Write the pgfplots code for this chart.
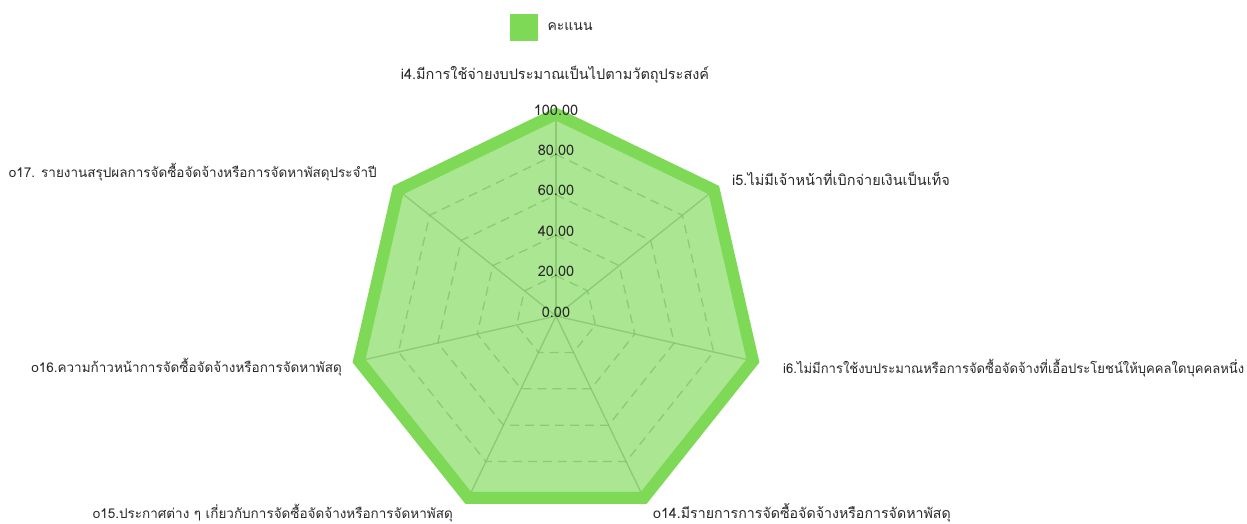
\documentclass[border=0pt]{standalone}
\usepackage{pgfplots}
\pgfplotsset{compat=1.18}
\usepgfplotslibrary{polar}
\usepackage{fontspec}
\setmainfont[Script=Thai]{Loma}
\definecolor{radar}{RGB}{126,217,87}
\definecolor{txt}{RGB}{40,40,40}
\definecolor{gridc}{RGB}{130,145,130}

\begin{document}
\begin{tikzpicture}
\path[use as bounding box] (0,0) rectangle (1247pt,523pt);
\begin{polaraxis}[
    at={(556pt,207pt)}, anchor=center,
    width=404pt, height=404pt, scale only axis,
    ymin=0, ymax=100,
    hide axis, clip=false,
    legend style={at={(0.377,1.215)}, anchor=west, draw=none, fill=none,
                  font=\fontsize{14}{16}\selectfont\color{txt},
                  nodes={inner xsep=10pt}},
    legend image code/.code={\fill[radar, draw=none, fill opacity=1] (0pt,-13.5pt) rectangle (28pt,13.5pt);},
]
% grid rings
\foreach \r in {20,40,60,80,100} {
  \edef\tmp{\noexpand\addplot[gridc, opacity=0.7, line width=1.3pt,
      dash pattern=on 9pt off 6pt, forget plot] coordinates {
      (90,\r) (38.571,\r) (347.143,\r) (295.714,\r) (244.286,\r)
      (192.857,\r) (141.429,\r) (90,\r)};}
  \tmp
}
% spokes
\foreach \a in {90,38.571,347.143,295.714,244.286,192.857,141.429} {
  \edef\tmp{\noexpand\addplot[gridc, opacity=0.7, line width=1.3pt, forget plot]
      coordinates {(\a,0) (\a,100)};}
  \tmp
}
% data
\addplot[draw=radar, line width=12pt, line join=miter,
         fill=radar, fill opacity=0.65] coordinates {
    (90,100) (38.571,100) (347.143,100) (295.714,100)
    (244.286,100) (192.857,100) (141.429,100)
} -- cycle;
\addlegendentry{คะแนน}
\end{polaraxis}

% radial tick labels
\foreach \v [count=\i from 0] in {0.00,20.00,40.00,60.00,80.00,100.00} {
  \node[txt, font=\fontsize{14.5}{16}\selectfont] at (556pt,{211pt+\i*40.4pt}) {\v};
}

% category labels
\begin{scope}[every node/.style={txt, font=\fontsize{13.5}{16}\selectfont, inner sep=0pt}]
\node[anchor=center, font=\fontsize{14.5}{16}\selectfont] at (555pt,448pt) {i4.มีการใช้จ่ายงบประมาณเป็นไปตามวัตถุประสงค์};
\node[anchor=west, font=\fontsize{14.5}{16}\selectfont] at (732pt,345pt) {i5.ไม่มีเจ้าหน้าที่เบิกจ่ายเงินเป็นเท็จ};
\node[anchor=west] at (783pt,155pt) {\resizebox{461pt}{\height}{i6.ไม่มีการใช้งบประมาณหรือการจัดซื้อจัดจ้างที่เอื้อประโยชน์ให้บุคคลใดบุคคลหนึ่ง}};
\node[anchor=west, font=\fontsize{14.2}{16}\selectfont] at (653pt,10pt) {o14.มีรายการการจัดซื้อจัดจ้างหรือการจัดหาพัสดุ};
\node[anchor=east] at (453pt,10pt) {o15.ประกาศต่าง ๆ เกี่ยวกับการจัดซื้อจัดจ้างหรือการจัดหาพัสดุ};
\node[anchor=east] at (342pt,156pt) {o16.ความก้าวหน้าการจัดซื้อจัดจ้างหรือการจัดหาพัสดุ};
\node[anchor=east] at (377pt,351pt) {o17. รายงานสรุปผลการจัดซื้อจัดจ้างหรือการจัดหาพัสดุประจำปี};
\end{scope}
\end{tikzpicture}
\end{document}
